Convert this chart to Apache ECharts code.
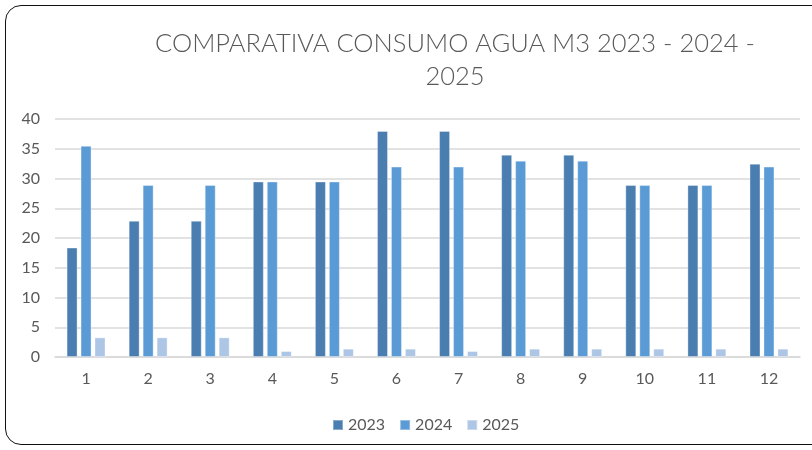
<!DOCTYPE html>
<html>
<head>
<meta charset="utf-8">
<script src="https://cdn.jsdelivr.net/npm/echarts@6/dist/echarts.min.js"></script>
<style>
html, body { margin: 0; padding: 0; background: #fff; }
#frame {
    position: absolute; left: 5px; top: 5px; width: 830px; height: 440px;
    border: 1.5px solid #111; border-radius: 16px; box-sizing: border-box;
}
#main { position: absolute; left: 0; top: 0; width: 812px; height: 450px; }
</style>
</head>
<body>
<div id="frame"></div>
<div id="main"></div>
<script>
// meses y consumos (m3)
var meses = ['1', '2', '3', '4', '5', '6', '7', '8', '9', '10', '11', '12'];
var datos2023 = [18.4, 22.9, 22.9, 29.5, 29.5, 38, 38, 34, 34, 28.9, 28.9, 32.5];
var datos2024 = [35.5, 28.9, 28.9, 29.5, 29.5, 32, 32, 33, 33, 28.9, 28.9, 32];
var datos2025 = [3.3, 3.3, 3.3, 1, 1.4, 1.4, 1, 1.4, 1.4, 1.4, 1.4, 1.4];
var ticksY = [0, 5, 10, 15, 20, 25, 30, 35, 40];

var gris = '#595959';
var fuente = 'Lato, Open Sans, sans-serif';
var chart = echarts.init(document.getElementById('main'));

function serie(nombre, datos, color) {
    return {
        name: nombre,
        type: 'bar',
        data: datos,
        barWidth: 11,
        barGap: '27%',
        itemStyle: { color: color, borderColor: 'rgba(255,255,255,0.35)', borderWidth: 1 }
    };
}

chart.setOption({
    backgroundColor: 'transparent',
    animation: false,
    title: {
        text: 'COMPARATIVA CONSUMO AGUA M3 2023 - 2024 -\n2025',
        left: 450,
        textAlign: 'center',
        top: 22,
        textStyle: {
            fontFamily: fuente,
            fontWeight: 300,
            fontSize: 25.5,
            color: gris,
            lineHeight: 33
        }
    },
    legend: {
        top: 412,
        left: 327,
        itemWidth: 10,
        itemHeight: 10,
        itemGap: 14,
        icon: 'rect',
        textStyle: { color: gris, fontSize: 16, fontFamily: fuente },
        data: ['2023', '2024', '2025']
    },
    grid: { left: 55, right: 12, top: 119, bottom: 93 },
    xAxis: {
        type: 'category',
        data: meses,
        axisTick: { show: false },
        axisLine: { lineStyle: { color: '#d9d9d9', width: 1.5 } },
        axisLabel: { color: gris, fontSize: 16, margin: 14, fontFamily: fuente }
    },
    yAxis: {
        type: 'value',
        min: ticksY[0],
        max: ticksY[ticksY.length - 1],
        interval: 5,
        axisLine: { show: false },
        axisTick: { show: false },
        splitLine: { lineStyle: { color: '#d9d9d9', width: 1.5 } },
        axisLabel: { color: gris, fontSize: 16, margin: 15, fontFamily: fuente }
    },
    series: [
        serie('2023', datos2023, '#4a7eb0'),
        serie('2024', datos2024, '#5b9bd5'),
        serie('2025', datos2025, '#adc6e6')
    ]
});
</script>
</body>
</html>
